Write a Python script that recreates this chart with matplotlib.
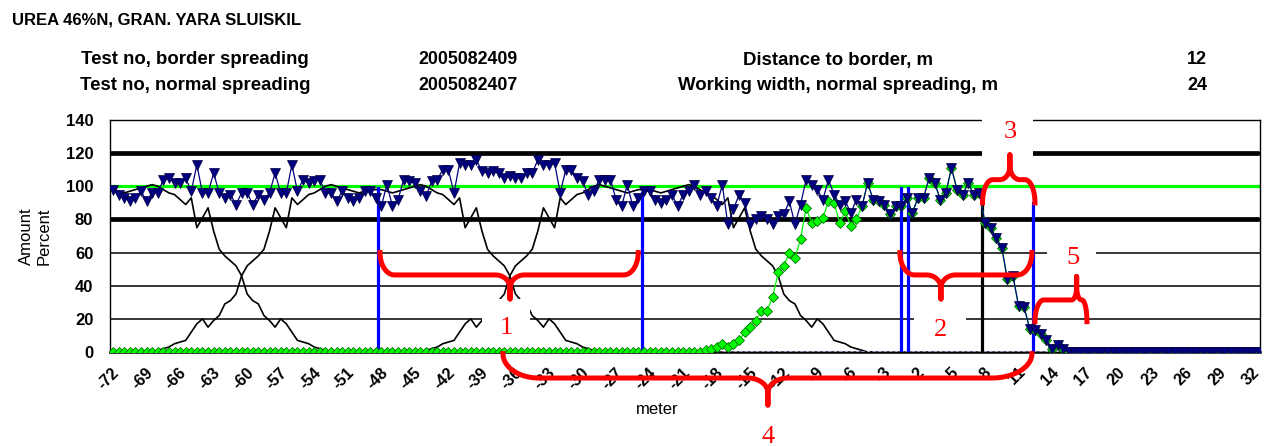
import numpy as np
import matplotlib.pyplot as plt
from matplotlib.patches import Rectangle
from matplotlib.transforms import ScaledTranslation

plt.rcParams['font.family'] = ['Liberation Sans', 'DejaVu Sans']

tick_labels = ['-72', '-69', '-66', '-63', '-60', '-57', '-54', '-51', '-48', '-45',
               '-42', '-39', '-36', '-33', '-30', '-27', '-24', '-21', '-18', '-15',
               '-12', '-9', '-6', '-3', '2', '5', '8', '11', '14', '17', '20', '23',
               '26', '29', '32']

# total distribution (border + normal), one reading every 0.5 m from -72
total_a = [98, 95, 93, 91, 93, 97, 91, 96, 96, 104, 105, 102, 102, 105, 97, 113, 96, 96, 108, 96,
           93, 95, 89, 96, 96, 89, 95, 92, 96, 108, 96, 96, 113, 97, 104, 102, 103, 104, 96, 96,
           91, 97, 93, 91, 93, 97, 97, 93, 88, 101, 88]
total_b = [92, 104, 103, 102, 97, 94, 103, 104, 110, 110, 96, 114, 113, 113, 116, 109, 108, 109, 108, 105,
           106, 105, 105, 108, 108, 116, 113, 113, 114, 96, 110, 110, 105, 103, 95, 97, 104, 104, 104, 92,
           88, 101, 88, 93, 97, 97, 92, 90, 92, 95, 88]
total_c = [95, 97, 101, 95, 97, 93, 88, 101, 77, 86, 95, 90, 77, 80, 82, 80, 77, 82, 83, 91,
           77, 89, 104, 101, 98, 92, 104, 95, 89, 91, 84, 92, 88, 102, 92, 91, 89, 83, 88, 88,
           93, 84, 93, 93, 105, 102, 92, 96, 111, 98, 95]
total_d = [102, 95, 96, 78, 75, 69, 63, 44, 46, 28, 27, 14, 13, 11, 7, 2, 4, 2]
total_tail = [0, 0, 0, 0, 0, 0, 0, 0, 0, 0, 0, 0, 0, 0, 0, 0, 0, 0, 0, 0,
              0, 0, 0, 0, 0, 0, 0, 0, 0, 0, 0, 0, 0, 0, 0]

# border spreading pass: flat zero up to index 106, then rising part, then same as total
border_flat = [0] * 106
border_rise = [1.5, 2, 3, 5, 3, 5, 7, 12, 15, 19, 25, 25, 33, 48, 52, 60, 57, 68, 87, 78,
               79, 81, 91, 90, 78, 85, 76, 80]

# one normal spreading pass, from the tramline outwards, every 0.5 m
normal_half = [98, 98, 97, 96, 97, 98, 99, 100, 101, 100, 98, 96, 95, 92, 89, 93, 75, 81, 87, 73,
               62, 58, 55, 52, 46, 35, 31, 29, 22, 19, 15, 20, 17, 12, 7, 6, 5, 3, 2, 1, 0]
normal_centres = [-72.5, -48.5, -24.5]

blue_x = [-48.33, -24.66, -1.55, -0.92, 10.32]
blue_top = [99, 96, 99, 99, 90]
black_x, black_top = 5.75, 92

total = np.array(total_a + total_b + total_c + total_d + total_tail, dtype=float)
pos = -72 + 0.5 * np.arange(len(total))
border = np.array(border_flat + border_rise + list(total[134:]), dtype=float)
half_d = 0.5 * np.arange(len(normal_half))

fig = plt.figure(figsize=(12.75, 4.46), dpi=100)
ax = fig.add_axes([110 / 1275, 94 / 446, 1150 / 1275, 232 / 446])
ax.set_xlim(-72.27, 30.6)
ax.set_ylim(0, 140)
x0, x1 = ax.get_xlim()

for y in [20, 40, 60, 140]:
    ax.axhline(y, color='black', lw=1.1, zorder=1)
for y in [80, 120]:
    ax.plot([x0, 30.45], [y, y], color='black', lw=3.4, solid_capstyle='round', zorder=2)
ax.plot([x0, 30.45], [100, 100], color='#00ff00', lw=2.3, zorder=2)

for c in normal_centres:
    d = np.abs(pos - c)
    m = d <= half_d[-1] + 0.5
    ax.plot(pos[m], np.interp(d[m], half_d, normal_half, right=0), color='black', lw=1.2, zorder=3)

ax.plot([-17.5, 13.5], [0.6, 0.6], ls=(0, (3, 2)), color='#9a9ab8', lw=0.8, zorder=3)

for bx, bt in zip(blue_x, blue_top):
    ax.plot([bx, bx], [0, bt], color='#0000ff', lw=2.3, zorder=4)
ax.plot([black_x, black_x], [0, black_top], color='black', lw=2.3, zorder=4)

ax.plot(pos, border, color='#00ff00', lw=0.9, marker='D', ms=5.5, mfc='#00ff00',
        mec='#007000', mew=0.6, zorder=5)
ax.plot(pos, total, color='#000080', lw=0.9, marker='v', ms=7.5, mfc='#000080',
        mec='#000040', mew=0.5, zorder=6)


def brace(xa, xb, xt, y_end, y_mid, y_tip, rl, rt, rr):
    t = np.linspace(0, np.pi / 2, 20)
    d = y_mid - y_end
    hs = 0.55 * (y_tip - y_mid)
    xs = list(xa + rl - rl * np.cos(t)) + list(xt - rt + rt * np.sin(t)) + [xt, xt]
    ys = list(y_end + d * np.sin(t)) + list(y_mid + hs * (1 - np.cos(t))) + [y_tip, y_mid + hs]
    xs += list(xt + rt - rt * np.cos(t)) + list(xb - rr + rr * np.sin(t))
    ys += list(y_mid + hs * (1 - np.sin(t))) + list(y_mid - d * (1 - np.cos(t)))
    ax.plot(xs, ys, color='#ff0000', lw=3.6, solid_joinstyle='round', clip_on=False, zorder=9)


brace(-48.12, -25.02, -36.49, 60, 46.5, 32, 1.3, 1.3, 1.3)
brace(-1.61, 10.2, 2.06, 60, 46.5, 32, 1.3, 1.3, 1.3)
brace(5.78, 10.47, 8.23, 90, 104, 119, 0.9, 0.9, 0.9)
brace(10.47, 15.12, 14.2, 18.3, 31.4, 45.5, 0.8, 0.45, 0.45)
brace(-37.12, 10.2, -13.42, -1, -15.7, -32, 3.2, 1.8, 3.6)

for bx0, bx1, by0, by1 in [(-38.99, -34.7, 4, 32), (-0.36, 4.3, 4, 31),
                           (5.72, 10.29, 118.2, 143.5), (11.54, 15.92, 48, 67)]:
    ax.add_patch(Rectangle((bx0, by0), bx1 - bx0, by1 - by0, facecolor='white',
                           edgecolor='none', clip_on=False, zorder=8))

for txt, tx, ty in [('1', -36.79, 14.5), ('2', 2.06, 13.3), ('3', 8.23, 132.8),
                    ('5', 13.86, 56.7), ('4', -13.42, -51)]:
    ax.text(tx, ty, txt, color='#ff0000', fontsize=19, family=['Liberation Serif', 'DejaVu Serif'],
            ha='center', va='center', clip_on=False, zorder=10)

ax.set_yticks(range(0, 141, 20))
ax.set_yticklabels([str(v) for v in range(0, 141, 20)], fontsize=12, fontweight='bold')
ax.set_xticks(np.arange(-72, 31, 3))
ax.set_xticklabels(tick_labels, fontsize=11.5, fontweight='bold', rotation=45,
                   ha='right', va='center', rotation_mode='anchor')
ax.tick_params(axis='both', length=0)
ax.tick_params(axis='y', pad=12)
ax.tick_params(axis='x', pad=13)
shift = ScaledTranslation(4 / 100, 0, fig.dpi_scale_trans)
for lab in ax.get_xticklabels():
    lab.set_transform(lab.get_transform() + shift)

for side in ['left', 'right', 'top']:
    ax.spines[side].set_linewidth(1.0)
ax.spines['bottom'].set_linewidth(1.8)

fig.text(35 / 1275, 1 - 236 / 446, 'Amount\nPercent', rotation=90, ha='center', va='center',
         fontsize=12, linespacing=1.25)
fig.text(657 / 1275, 1 - 410 / 446, 'meter', ha='center', va='center', fontsize=12)

fig.text(12 / 1275, 1 - 20 / 446, 'UREA 46%N, GRAN. YARA SLUISKIL', ha='left', va='center',
         fontsize=12, fontweight='bold')
rows = [('Test no, border spreading', '2005082409', 'Distance to border, m', '12', 60),
        ('Test no, normal spreading', '2005082407', 'Working width, normal spreading, m', '24', 85)]
for a, b, c, d, yy in rows:
    fy = 1 - yy / 446
    fig.text(195 / 1275, fy, a, ha='center', va='center', fontsize=13.4, fontweight='bold')
    fig.text(468 / 1275, fy, b, ha='center', va='center', fontsize=12.8, fontweight='bold')
    fig.text(838 / 1275, fy, c, ha='center', va='center', fontsize=13.4, fontweight='bold')
    fig.text(1197 / 1275, fy, d, ha='center', va='center', fontsize=13, fontweight='bold')

fig.savefig('out.png', dpi=100)
